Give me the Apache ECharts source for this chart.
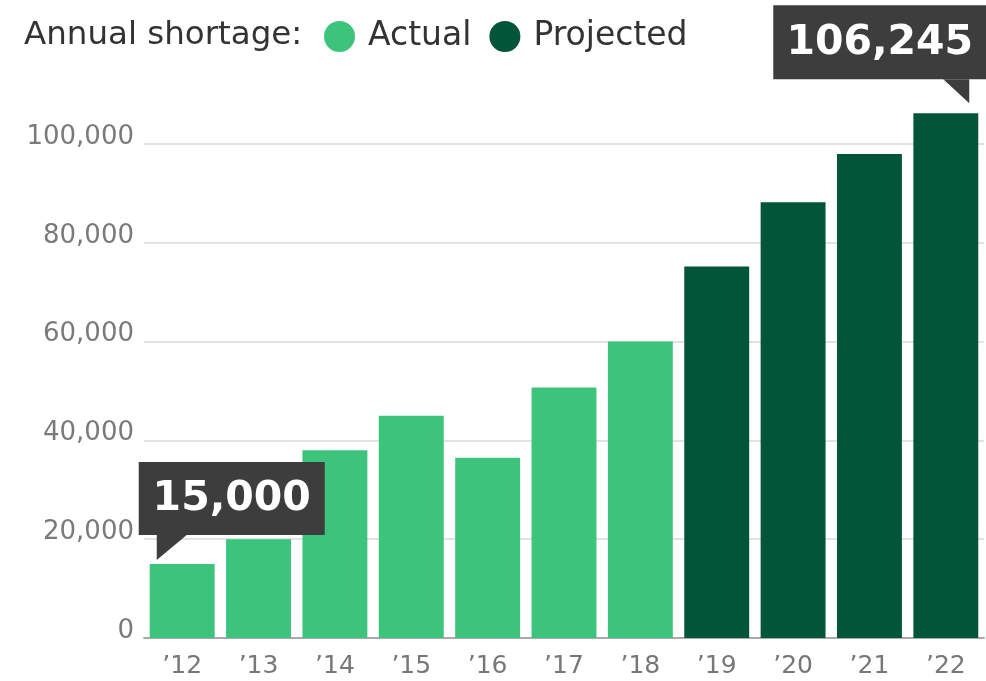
<!DOCTYPE html>
<html>
<head>
<meta charset="utf-8">
<script src="https://cdn.jsdelivr.net/npm/echarts@6/dist/echarts.min.js"></script>
<style>html,body{margin:0;padding:0;background:#fff}#c{width:986px;height:681px}</style>
</head>
<body>
<div id="c"></div>
<script>
var years = ["’12","’13","’14","’15","’16","’17","’18","’19","’20","’21","’22"];
var actual = [15000, 20000, 38000, 45000, 36500, 50700, 60000, null, null, null, null];
var projected = [null, null, null, null, null, null, null, 75200, 88200, 98000, 106245];
var yTicks = [0, 20000, 40000, 60000, 80000, 100000];
var legendTitle = "Annual shortage:";
var callouts = [{series: 0, index: 0, text: "15,000"}, {series: 1, index: 10, text: "106,245"}];

var FONT = "DejaVu Sans";
var chart = echarts.init(document.getElementById('c'));
var GAP = 0.15;
chart.setOption({
  animation: false,
  textStyle: {fontFamily: FONT},
  grid: {left: 144, right: 2, top: 144, bottom: 43},
  legend: {
    left: 319, top: 15, itemWidth: 31, itemHeight: 31, itemGap: 18, icon: 'circle',
    textStyle: {fontSize: 33, color: '#333', fontFamily: FONT, padding: [0, 0, 0, 8]},
    data: ['Actual', 'Projected'], selectedMode: false
  },
  xAxis: {
    type: 'category', data: years,
    axisLine: {lineStyle: {color: '#aaa', width: 2}},
    axisTick: {show: false},
    axisLabel: {fontSize: 25, color: '#777', margin: 16, fontFamily: FONT}
  },
  yAxis: {
    type: 'value', min: 0, max: 100000, interval: 20000,
    axisLine: {show: false}, axisTick: {show: false},
    axisLabel: {fontSize: 26, color: '#7a7a7a', margin: 10, fontFamily: FONT, lineHeight: 14,
      formatter: function (v) { return yTicks.indexOf(v) >= 0 ? v.toLocaleString('en-US') + '\n ' : ''; }},
    splitLine: {lineStyle: {color: '#e2e2e2', width: 2}}
  },
  series: [
    {name: 'Actual', type: 'bar', stack: 's', data: actual, clip: false, barCategoryGap: (GAP * 100) + '%',
      itemStyle: {color: '#3cc47c'}},
    {name: 'Projected', type: 'bar', stack: 's', data: projected, clip: false, barCategoryGap: (GAP * 100) + '%',
      itemStyle: {color: '#03553a'}}
  ]
});

var p0 = chart.convertToPixel({gridIndex: 0}, [0, 0]);
var p1 = chart.convertToPixel({gridIndex: 0}, [1, 0]);
var band = p1[0] - p0[0];
var half = band * (1 - GAP) / 2;
var g = [{type: 'text', left: 24, top: 19, style: {text: legendTitle, font: '32.5px "' + FONT + '"', fill: '#333'}}];
callouts.forEach(function (c, k) {
  var arr = c.series === 0 ? actual : projected;
  var p = chart.convertToPixel({gridIndex: 0}, [c.index, arr[c.index]]);
  var tipX, tipY, bx, by, bw, bh, tri;
  if (k === 0) {
    tipX = p[0] - half + 7; tipY = p[1] - 4;
    bw = 186; bh = 73; bx = tipX - 18; by = tipY - 25 - bh;
    tri = [[tipX, by + bh], [tipX + 30, by + bh], [tipX, tipY]];
  } else {
    tipX = p[0] + half - 9; tipY = p[1] - 10;
    bw = 213; bh = 74; bx = tipX + 17 - bw; by = tipY - 24 - bh;
    tri = [[tipX - 26, by + bh], [tipX, by + bh], [tipX, tipY]];
  }
  g.push({type: 'rect', shape: {x: bx, y: by, width: bw, height: bh}, style: {fill: '#3d3d3d'}, z: 10});
  g.push({type: 'polygon', shape: {points: tri}, style: {fill: '#3d3d3d'}, z: 10});
  g.push({type: 'text', x: bx + bw / 2, y: by + bh / 2 + 1, z: 11,
    style: {text: c.text, fill: '#fff', font: 'bold 41px "DejaVu Sans"', align: 'center', verticalAlign: 'middle'}});
});
chart.setOption({graphic: g});
</script>
</body>
</html>
